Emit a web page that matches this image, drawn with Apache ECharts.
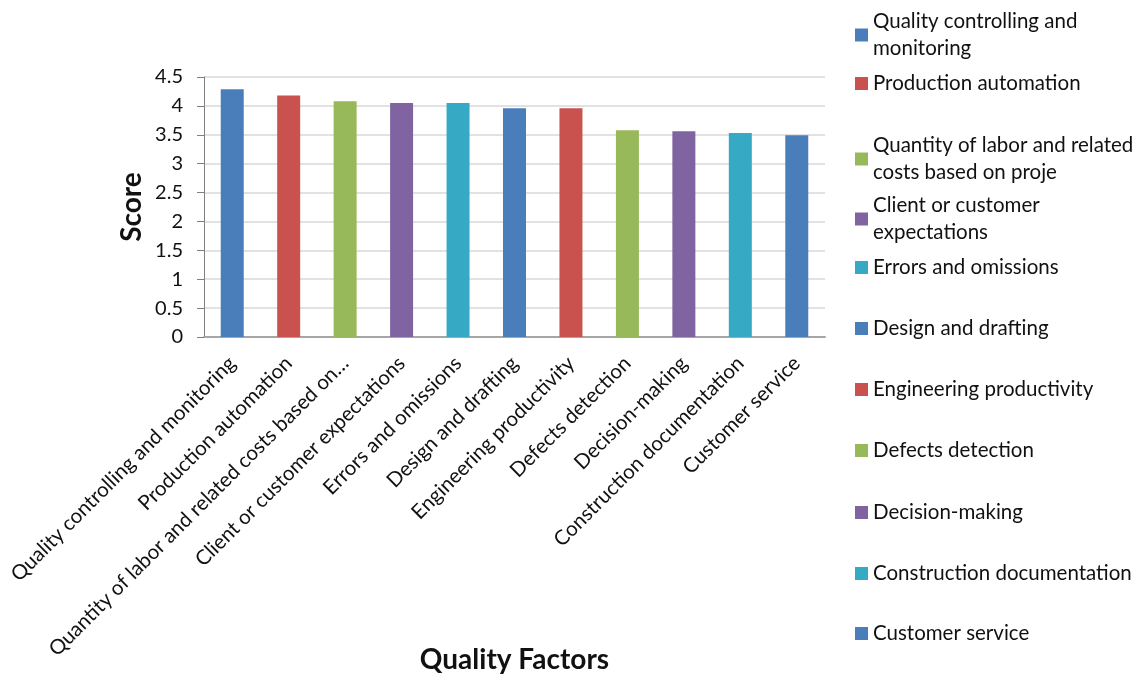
<!DOCTYPE html>
<html>
<head>
<meta charset="utf-8">
<script src="https://cdn.jsdelivr.net/npm/echarts@6/dist/echarts.min.js"></script>
<style>
  html, body { margin: 0; padding: 0; background: #fff; }
  #chart { width: 1141px; height: 676px; }
</style>
</head>
<body>
<div id="chart"></div>
<script>
// Factor names (series / legend keys)
const factors = [
  'Quality controlling and monitoring',
  'Production automation',
  'Quantity of labor and related costs based on proje',
  'Client or customer expectations',
  'Errors and omissions',
  'Design and drafting',
  'Engineering productivity',
  'Defects detection',
  'Decision-making',
  'Construction documentation',
  'Customer service'
];
// Legend text, wrapped onto two lines where it is long
const legendLabels = [
  'Quality controlling and\nmonitoring',
  'Production automation',
  'Quantity of labor and related\ncosts based on proje',
  'Client or customer\nexpectations',
  'Errors and omissions',
  'Design and drafting',
  'Engineering productivity',
  'Defects detection',
  'Decision-making',
  'Construction documentation',
  'Customer service'
];
// Category axis labels
const tickLabels = [
  'Quality controlling and monitoring',
  'Production automation',
  'Quantity of labor and related costs based on…',
  'Client or customer expectations',
  'Errors and omissions',
  'Design and drafting',
  'Engineering productivity',
  'Defects detection',
  'Decision-making',
  'Construction documentation',
  'Customer service'
];
// Mean score of each factor
const scores = [4.29, 4.18, 4.08, 4.05, 4.05, 3.96, 3.96, 3.58, 3.56, 3.53, 3.49];

const palette = ['#4A7EBB', '#C9514E', '#98B95A', '#8064A1', '#36AAC4'];
const FONT = 'Lato';

// Vertical placement of each legend entry (px from top)
const legendTops = [8, 70, 132, 192, 254, 315, 376, 437, 499, 560, 620];

// One series per factor, stacked so each bar sits centred on its own category
const series = factors.map((name, i) => ({
  name: name,
  type: 'bar',
  stack: 'all',
  barWidth: 23,
  itemStyle: { color: palette[i % palette.length] },
  data: scores.map((v, j) => (j === i ? v : '-'))
}));

const legends = factors.map((name, i) => ({
  data: [name],
  formatter: () => legendLabels[i],
  orient: 'vertical',
  left: 855,
  top: legendTops[i],
  padding: 0,
  icon: 'rect',
  itemWidth: 13,
  itemHeight: 13,
  itemGap: 0,
  selectedMode: false,
  textStyle: {
    fontFamily: FONT,
    fontSize: 20.5,
    color: '#111',
    lineHeight: 27
  }
}));

const chart = echarts.init(document.getElementById('chart'), null, { renderer: 'canvas' });
chart.setOption({
  animation: false,
  backgroundColor: '#fff',
  textStyle: { fontFamily: FONT },
  legend: legends,
  grid: { left: 204, right: 316, top: 77, bottom: 339, containLabel: false, outerBoundsMode: 'none' },
  xAxis: {
    type: 'category',
    data: tickLabels,
    name: 'Quality Factors',
    nameLocation: 'middle',
    nameGap: 309,
    nameMoveOverlap: false,
    nameTextStyle: { fontFamily: FONT, fontSize: 28, fontWeight: 'bold', color: '#111' },
    axisLine: { lineStyle: { color: '#A6A6A6', width: 2 } },
    axisTick: { show: false },
    axisLabel: {
      rotate: 45,
      interval: 0,
      margin: 23,
      fontFamily: FONT,
      fontSize: 20.5,
      color: '#111'
    }
  },
  yAxis: {
    type: 'value',
    min: 0,
    max: 4.5,
    interval: 0.5,
    name: 'Score',
    nameLocation: 'middle',
    nameRotate: 90,
    nameGap: 58,
    nameMoveOverlap: false,
    nameTextStyle: { fontFamily: FONT, fontSize: 28, fontWeight: 'bold', color: '#111' },
    axisLine: { show: true, lineStyle: { color: '#7F7F7F', width: 1 } },
    axisTick: { show: true, length: 7, lineStyle: { color: '#7F7F7F' } },
    axisLabel: { fontFamily: FONT, fontSize: 20, color: '#111', margin: 21 },
    splitLine: { lineStyle: { color: '#D9D9D9', width: 1.5 } }
  },
  series: series
});
</script>
</body>
</html>
